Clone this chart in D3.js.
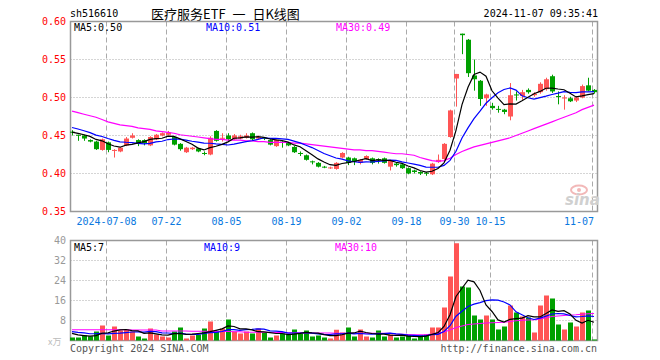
<!DOCTYPE html>
<html>
<head>
<meta charset="utf-8">
<script src="https://cdn.jsdelivr.net/npm/d3@7"></script>
<style>
body { margin: 0; background: #fff; }
svg { display: block; }
</style>
</head>
<body>
<script>
const dates = ["06-28","07-01","07-02","07-03","07-04","07-05","07-08","07-09","07-10","07-11",
    "07-12","07-15","07-16","07-17","07-18","07-19","07-22","07-23","07-24","07-25",
    "07-26","07-29","07-30","07-31","08-01","08-02","08-05","08-06","08-07","08-08",
    "08-09","08-12","08-13","08-14","08-15","08-16","08-19","08-20","08-21","08-22",
    "08-23","08-26","08-27","08-28","08-29","08-30","09-02","09-03","09-04","09-05",
    "09-06","09-09","09-10","09-11","09-12","09-13","09-18","09-19","09-20","09-23",
    "09-24","09-25","09-26","09-27","09-30","10-08","10-09","10-10","10-11","10-14",
    "10-15","10-16","10-17","10-18","10-21","10-22","10-23","10-24","10-25","10-28",
    "10-29","10-30","10-31","11-01","11-04","11-05","11-06","11-07"];

const open = [0.455,0.451,0.450,0.444,0.442,0.431,0.441,0.430,0.429,0.437,
    0.447,0.444,0.444,0.437,0.445,0.450,0.451,0.448,0.439,0.428,
    0.432,0.433,0.427,0.425,0.456,0.446,0.450,0.445,0.446,0.447,
    0.453,0.446,0.447,0.444,0.436,0.442,0.440,0.435,0.427,0.424,
    0.416,0.414,0.409,0.407,0.406,0.421,0.421,0.420,0.414,0.419,
    0.420,0.419,0.420,0.409,0.413,0.412,0.407,0.404,0.402,0.401,
    0.399,0.415,0.419,0.448,0.525,0.584,0.576,0.529,0.522,0.499,
    0.489,0.485,0.484,0.475,0.504,0.502,0.510,0.503,0.507,0.511,
    0.528,0.502,0.499,0.499,0.496,0.500,0.516,0.510];
const high = [0.457,0.451,0.451,0.445,0.443,0.446,0.442,0.432,0.435,0.448,
    0.453,0.445,0.445,0.449,0.452,0.454,0.456,0.449,0.440,0.435,
    0.435,0.434,0.429,0.449,0.457,0.453,0.453,0.452,0.451,0.453,
    0.454,0.450,0.448,0.445,0.445,0.443,0.441,0.436,0.429,0.425,
    0.417,0.415,0.410,0.409,0.415,0.428,0.422,0.421,0.419,0.424,
    0.421,0.420,0.421,0.418,0.415,0.413,0.408,0.405,0.403,0.402,
    0.414,0.425,0.440,0.484,0.531,0.584,0.577,0.550,0.523,0.505,
    0.493,0.489,0.485,0.519,0.508,0.510,0.512,0.507,0.520,0.526,
    0.530,0.508,0.503,0.501,0.502,0.517,0.526,0.511];
const low = [0.450,0.443,0.443,0.441,0.431,0.430,0.428,0.421,0.428,0.436,
    0.446,0.436,0.437,0.436,0.444,0.449,0.450,0.437,0.430,0.427,
    0.431,0.428,0.424,0.424,0.442,0.442,0.443,0.444,0.445,0.446,
    0.444,0.445,0.444,0.437,0.435,0.434,0.436,0.427,0.423,0.417,
    0.412,0.408,0.407,0.406,0.405,0.420,0.411,0.411,0.412,0.418,
    0.412,0.413,0.413,0.404,0.409,0.406,0.399,0.400,0.398,0.397,
    0.398,0.414,0.418,0.447,0.488,0.557,0.527,0.509,0.489,0.489,
    0.484,0.480,0.478,0.470,0.496,0.497,0.505,0.501,0.505,0.509,
    0.506,0.491,0.484,0.494,0.494,0.499,0.508,0.505];
const close = [0.454,0.450,0.446,0.442,0.432,0.445,0.431,0.431,0.434,0.446,
    0.450,0.440,0.440,0.448,0.451,0.453,0.454,0.438,0.432,0.434,
    0.434,0.429,0.426,0.447,0.443,0.447,0.445,0.450,0.449,0.450,
    0.445,0.448,0.446,0.438,0.444,0.441,0.437,0.428,0.426,0.418,
    0.415,0.409,0.408,0.408,0.414,0.427,0.414,0.416,0.418,0.423,
    0.414,0.418,0.414,0.417,0.411,0.407,0.400,0.402,0.400,0.400,
    0.413,0.418,0.439,0.483,0.531,0.582,0.532,0.524,0.498,0.504,
    0.486,0.484,0.481,0.503,0.503,0.507,0.507,0.505,0.518,0.524,
    0.508,0.501,0.500,0.495,0.500,0.515,0.509,0.507];
// 万
const volume = [1.2,1.2,2.0,1.7,3.6,6.0,2.0,5.6,4.0,4.4,
    3.6,1.6,0.8,4.8,2.4,1.6,1.2,3.6,5.2,0.8,
    2.0,2.4,4.8,7.6,3.6,4.8,8.4,3.6,2.8,3.6,
    2.8,4.8,3.2,1.2,2.0,2.8,2.4,4.4,2.8,4.0,
    1.6,2.0,1.2,0.8,4.3,3.2,5.2,1.6,4.4,1.6,
    1.2,4.0,1.6,2.4,1.2,1.6,2.0,0.8,2.0,2.4,
    5.2,5.2,13.2,25.6,38.9,21.6,21.2,10.0,8.4,10.0,
    8.4,4.4,5.6,14.0,11.2,9.6,9.2,3.2,14.0,18.0,
    16.8,6.4,4.4,7.2,5.6,11.2,12.0,0.4];

// closes / volumes of the days just before the window (for MA5 / MA10 warm-up)
const priorClose = [0.470,0.468,0.467,0.465,0.463,0.458,0.455,0.453,0.452];
const priorVolume = [4.5,4.0,5.0,3.5,4.5,4.0,3.5,3.0,2.5];

// MA30 lines
const ma30Price = [0.482,0.480,0.478,0.476,0.474,0.471,0.468,0.466,0.464,0.463,
    0.462,0.460,0.459,0.458,0.456,0.455,0.454,0.453,0.451,0.450,
    0.449,0.448,0.447,0.446,0.445,0.445,0.444,0.444,0.444,0.443,
    0.443,0.442,0.442,0.441,0.441,0.441,0.441,0.440,0.440,0.439,
    0.438,0.437,0.436,0.435,0.434,0.433,0.432,0.431,0.431,0.430,
    0.430,0.429,0.428,0.427,0.426,0.426,0.425,0.424,0.421,0.419,
    0.417,0.416,0.417,0.420,0.425,0.429,0.432,0.435,0.437,0.439,
    0.441,0.443,0.445,0.447,0.450,0.453,0.456,0.459,0.462,0.465,
    0.468,0.471,0.474,0.477,0.480,0.484,0.487,0.490];
const ma30Vol = [4.3,4.3,4.3,4.3,4.3,4.3,4.3,4.3,4.3,4.3,
    4.2,4.2,4.2,4.2,4.2,3.8,3.8,3.8,3.8,3.8,
    3.7,3.7,3.7,3.6,3.6,3.6,3.6,3.5,3.5,3.3,
    3.3,3.3,3.3,3.2,3.2,3.2,3.1,3.1,3.1,3.0,
    3.0,3.0,3.0,3.0,2.9,2.9,2.9,2.9,2.9,2.9,
    2.9,2.9,2.9,2.9,2.6,2.5,2.4,2.3,2.3,2.3,
    2.6,3.0,3.4,4.2,5.2,5.8,6.4,6.6,6.8,7.0,
    7.1,7.2,7.3,7.6,7.9,8.1,8.2,8.3,8.6,9.1,
    9.6,9.8,10.0,10.2,10.3,10.5,10.7,10.8];

const tickDays = ["07-08","07-22","08-05","08-19","09-02","09-18","09-30","10-15","11-07"];
const priceTicks = [0.35,0.40,0.45,0.50,0.55,0.60];
const volTicks = [8,16,24,32,40];

const red = "#ff5555", green = "#00a000";
const mono = "'DejaVu Sans Mono', monospace";

function movingAvg(prior, vals, n) {
    const all = prior.concat(vals);
    return vals.map((v, i) => {
        const j = i + prior.length;
        return d3.mean(all.slice(j - n + 1, j + 1));
    });
}

const ma5 = movingAvg(priorClose, close, 5);
const ma10 = movingAvg(priorClose, close, 10);
const vma5 = movingAvg(priorVolume, volume, 5);
const vma10 = movingAvg(priorVolume, volume, 10);

const width = 660, height = 360;
const left = 70.5, right = 597.5;

const svg = d3.select("body").append("svg")
    .attr("width", width)
    .attr("height", height)
    .style("font-family", mono)
    .style("font-size", "10px");

const x = d3.scaleLinear().domain([0, dates.length - 1]).range([72, 594]);
const y = d3.scaleLinear().domain([0.35, 0.60]).range([211.5, 21.5]);
const yv = d3.scaleLinear().domain([0, 40]).range([340.5, 240.5]);

const tickIdx = tickDays.map(d => dates.indexOf(d));
const up = i => close[i] >= open[i];

// header
svg.append("text").attr("x", 70).attr("y", 17).text("sh516610");
svg.append("text").attr("x", 151).attr("y", 19)
    .style("font-family", "'Noto Sans CJK SC', sans-serif").style("font-size", "13px")
    .style("word-spacing", "4px")
    .text("医疗服务ETF 一 日K线图");
svg.append("text").attr("x", 598).attr("y", 17).attr("text-anchor", "end")
    .text("2024-11-07 09:35:41");

function panel(yScale, ticks, top, bottom, labelColor, fmt) {
    const g = svg.append("g");
    g.selectAll(".hgrid")
        .data(ticks.filter(t => yScale(t) > top + 1 && yScale(t) < bottom - 1))
        .enter().append("line")
        .attr("x1", left).attr("x2", right)
        .attr("y1", d => yScale(d)).attr("y2", d => yScale(d))
        .attr("stroke", "#aaa").attr("stroke-dasharray", "1,2");
    g.selectAll(".vgrid")
        .data(tickIdx)
        .enter().append("line")
        .attr("x1", d => Math.round(x(d)) - 1.5).attr("x2", d => Math.round(x(d)) - 1.5)
        .attr("y1", top).attr("y2", bottom)
        .attr("stroke", "#aaa").attr("stroke-dasharray", "5,3");
    g.append("rect")
        .attr("x", left).attr("y", top)
        .attr("width", right - left).attr("height", bottom - top)
        .attr("fill", "none").attr("stroke", "#999").attr("stroke-width", 1.5);
    g.selectAll(".ylab")
        .data(ticks)
        .enter().append("text")
        .attr("x", 66).attr("y", d => yScale(d) + 3.5)
        .attr("text-anchor", "end")
        .attr("fill", labelColor)
        .text(fmt);
}

panel(y, priceTicks, 21.5, 211.5, "#ff0000", d => d.toFixed(2));
panel(yv, volTicks, 240.5, 340.5, "#999", d => d);

// date labels
svg.selectAll(".xlab")
    .data(tickIdx)
    .enter().append("text")
    .attr("x", (d, k) => k === tickIdx.length - 1 ? 594 : Math.round(x(d)) - 1.5)
    .attr("y", 225)
    .attr("text-anchor", (d, k) => k === tickIdx.length - 1 ? "end" : "middle")
    .attr("fill", "#0a78e0")
    .text((d, k) => k === 0 ? "2024-" + tickDays[k] : tickDays[k]);

// watermark
const wm = svg.append("g");
wm.append("ellipse").attr("cx", 579).attr("cy", 190).attr("rx", 8).attr("ry", 4.5)
    .attr("fill", "none").attr("stroke", "#f2b8b8").attr("stroke-width", 2);
wm.append("circle").attr("cx", 579).attr("cy", 190).attr("r", 2).attr("fill", "#f2b8b8");
wm.append("text").attr("x", 565).attr("y", 205)
    .style("font-family", "'DejaVu Sans', sans-serif").style("font-size", "15px")
    .style("font-style", "italic").style("font-weight", "bold")
    .attr("fill", "#d0d0d0").text("sina");

// candles
const idx = d3.range(dates.length);
const candles = svg.append("g");
candles.selectAll(".wick")
    .data(idx)
    .enter().append("line")
    .attr("x1", i => Math.round(x(i)) + 0.5).attr("x2", i => Math.round(x(i)) + 0.5)
    .attr("y1", i => y(high[i])).attr("y2", i => y(low[i]))
    .attr("stroke", i => up(i) ? red : green);
candles.selectAll(".body")
    .data(idx)
    .enter().append("rect")
    .attr("x", i => Math.round(x(i)) - 2)
    .attr("width", 5)
    .attr("y", i => y(Math.max(open[i], close[i])))
    .attr("height", i => Math.max(1, Math.abs(y(open[i]) - y(close[i]))))
    .attr("fill", i => up(i) ? red : green);

// volume bars
svg.append("g").selectAll("rect")
    .data(idx)
    .enter().append("rect")
    .attr("x", i => Math.round(x(i)) - 2)
    .attr("width", 5)
    .attr("y", i => yv(volume[i]))
    .attr("height", i => yv(0) - yv(volume[i]))
    .attr("fill", i => up(i) ? red : green);

// moving averages
function maLine(vals, scale, color) {
    svg.append("path")
        .datum(vals)
        .attr("fill", "none")
        .attr("stroke", color)
        .attr("stroke-width", 1.2)
        .attr("d", d3.line().x((d, i) => x(i)).y(d => scale(d)));
}
maLine(ma30Price, y, "#ff00ff");
maLine(ma10, y, "#0000ff");
maLine(ma5, y, "#000");
maLine(ma30Vol, yv, "#ff00ff");
maLine(vma10, yv, "#0000ff");
maLine(vma5, yv, "#000");

// legends
const legend = [
    { x: 74, y: 31, c: "#000", t: "MA5:0.50" },
    { x: 206, y: 31, c: "#0000ff", t: "MA10:0.51" },
    { x: 336, y: 31, c: "#ff00ff", t: "MA30:0.49" },
    { x: 74, y: 251, c: "#000", t: "MA5:7" },
    { x: 204, y: 251, c: "#0000ff", t: "MA10:9" },
    { x: 335, y: 251, c: "#ff00ff", t: "MA30:10" }
];
svg.selectAll(".legend")
    .data(legend)
    .enter().append("text")
    .attr("x", d => d.x).attr("y", d => d.y)
    .attr("fill", d => d.c)
    .text(d => d.t);

svg.append("text").attr("x", 48).attr("y", 345).attr("fill", "#bbb")
    .style("font-family", "'Noto Sans CJK SC', sans-serif").style("font-size", "9px")
    .text("x万");
svg.append("text").attr("x", 70).attr("y", 352).attr("fill", "#555")
    .text("Copyright 2024 SINA.COM");
svg.append("text").attr("x", 597).attr("y", 352).attr("text-anchor", "end").attr("fill", "#555")
    .text("http://finance.sina.com.cn");
</script>
</body>
</html>
